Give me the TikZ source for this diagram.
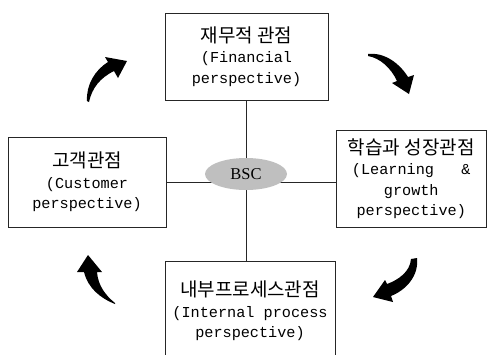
\documentclass[tikz,border=0pt]{standalone}
\usepackage{fontspec}
\setmonofont{Liberation Mono}
\newfontfamily\kofont{Noto Sans CJK KR}
\newfontfamily\bscfont{Liberation Serif}
\usetikzlibrary{shapes.geometric}

\newcommand\kor[1]{{\kofont\fontsize{19}{20}\selectfont #1}}

\begin{document}
\begin{tikzpicture}[
  x=1pt, y=-1pt,
  every node/.style={font=\ttfamily\fontsize{15.2}{20.5}\selectfont},
  viewbox/.style={draw=black!85, line width=0.8pt, rectangle, align=center, inner sep=0pt},
  link/.style={draw=black!85, line width=0.8pt},
  turn/.style={fill=black}
]
  \useasboundingbox (0,0) rectangle (487,354);

  % Prospettive
  \node[viewbox, minimum width=163pt, minimum height=87pt] (fin) at (246.5,56.5)
    {\kor{재무적 관점}\\(Financial\\perspective)};
  \node[viewbox, minimum width=158pt, minimum height=90pt] (cust) at (87,182)
    {\kor{고객관점}\\(Customer\\perspective)};
  \node[viewbox, minimum width=150.5pt, minimum height=97pt] (learn) at (411.25,178.5)
    {\kor{학습과 성장관점}\\(Learning\ \ \ \&\\growth\\perspective)};
  \node[viewbox, minimum width=170pt, minimum height=100pt] (proc) at (250,311)
    {\kor{내부프로세스관점}\\(Internal process\\perspective)};

  % Collegamenti
  \draw[link] (cust.east) -- (cust.east -| learn.west);
  \draw[link] (fin.south) -- (fin.south |- proc.north);

  % Nodo centrale
  \node[ellipse, fill=black!25, minimum width=82pt, minimum height=32pt, inner sep=0pt,
        font=\bscfont\fontsize{16.5}{16.5}\selectfont] (bsc) at (246,174) {BSC};

  % --- frecce ---
  \fill[turn] (368,54) .. controls (385,52) and (400,64) .. (408,77) -- (414,75) -- (409,94)
    -- (392,83) -- (397,81) .. controls (391,68) and (380,58) .. (368,56) -- cycle;
  \fill[turn] (417,258) .. controls (419,276) and (406,290) .. (391,296) -- (393,302) -- (373,297)
    -- (385,280) -- (387,284) .. controls (398,280) and (410,272) .. (411,259) -- cycle;
  \fill[turn] (115,304) .. controls (100,298) and (88,288) .. (84,272) -- (77,272) -- (88,255)
    -- (102,272) -- (97,272) .. controls (98,285) and (105,295) .. (115,303) -- cycle;
  \fill[turn] (87,101) .. controls (86,85) and (95,70) .. (108,62) -- (105,57) -- (127,61)
    -- (118,78) -- (114,71) .. controls (100,78) and (92,88) .. (89,102) -- cycle;
\end{tikzpicture}
\end{document}
